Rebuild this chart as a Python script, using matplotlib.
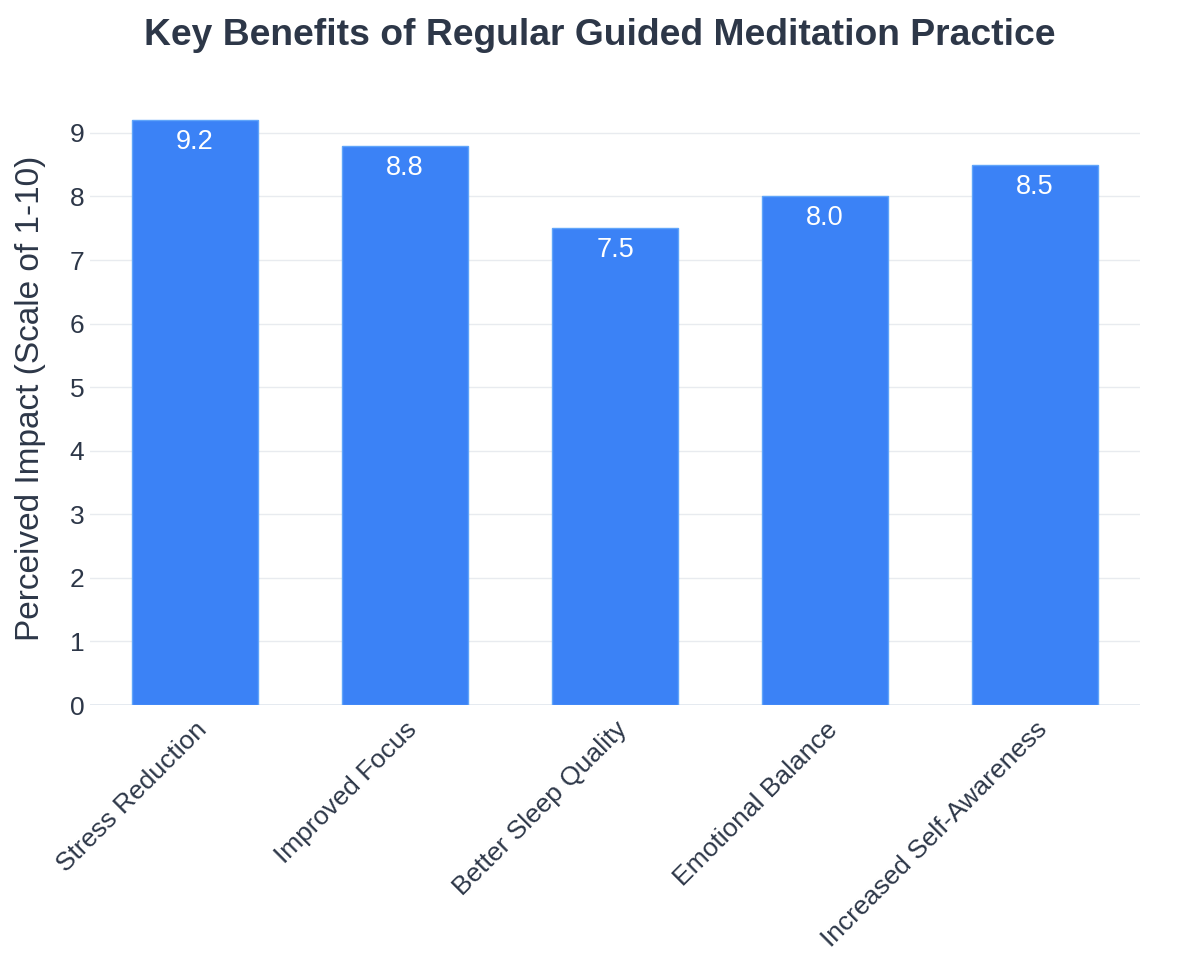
import numpy as np
import matplotlib.pyplot as plt

plt.rcParams['font.family'] = ['Liberation Sans', 'DejaVu Sans']

categories = ["Stress Reduction", "Improved Focus", "Better Sleep Quality",
              "Emotional Balance", "Increased Self-Awareness"]
impact = [9.2, 8.8, 7.5, 8.0, 8.5]

text_color = "#2d3748"
bar_color = "#3b82f6"

fig = plt.figure(figsize=(12, 9.75), dpi=100)
ax = fig.add_axes([0.075, 0.2769, 0.875, 0.6298])

x = np.arange(len(categories))
bars = ax.bar(x, impact, width=0.6, color=bar_color, edgecolor="#60a5fa", linewidth=1, zorder=2)

for xi, v in zip(x, impact):
    ax.text(xi, v - 0.14, f"{v:.1f}", ha="center", va="top", color="white", fontsize=19.5, zorder=3)

ax.set_xlim(-0.5, len(categories) - 0.5)
ax.set_ylim(0, 9.66)
ax.set_yticks(range(0, 10))
ax.grid(axis="y", color="#e8ebef", linewidth=1, zorder=0)
ax.axhline(0, color="#e2e8f0", linewidth=2, zorder=1)
for s in ax.spines.values():
    s.set_visible(False)

ax.set_xticks(x)
ax.set_xticklabels(categories, rotation=45, ha="right", rotation_mode="anchor",
                   fontsize=19, color=text_color)
ax.tick_params(axis="x", length=0, pad=9)
ax.tick_params(axis="y", length=0, pad=4, labelsize=19, labelcolor=text_color)

ax.set_ylabel("Perceived Impact (Scale of 1-10)", fontsize=24, color=text_color, labelpad=17)
fig.text(0.5, 0.964, "Key Benefits of Regular Guided Meditation Practice",
         ha="center", va="center", fontsize=26.8, fontweight="bold", color=text_color)

fig.savefig("out.png", dpi=100)
